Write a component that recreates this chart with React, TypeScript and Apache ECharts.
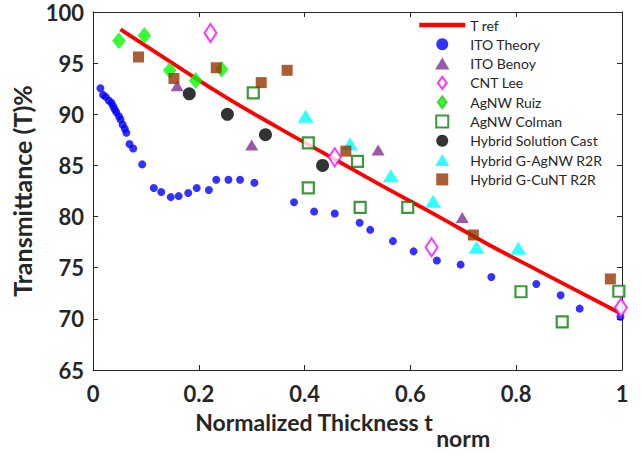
import React, { useEffect, useRef } from "react";
import * as echarts from "echarts";

// Reference curve (T ref)
const tRefX = [0.052, 0.15, 0.25, 0.35, 0.45, 0.55, 0.65, 0.75, 0.85, 0.995];
const tRefY = [98.3, 95.0, 91.7, 88.7, 85.8, 82.9, 80.1, 77.2, 74.5, 70.6];

const itoTheory: [number, number][] = [
  [0.014, 92.55], [0.019, 91.9], [0.024, 91.7], [0.030, 91.35], [0.035, 91.1],
  [0.038, 90.8], [0.041, 90.5], [0.044, 90.2], [0.049, 89.8], [0.052, 89.5],
  [0.056, 89.0], [0.060, 88.6], [0.063, 88.2], [0.069, 87.1], [0.076, 86.65],
  [0.093, 85.1], [0.115, 82.8], [0.129, 82.4], [0.147, 81.9], [0.162, 82.0],
  [0.180, 82.3], [0.196, 82.8], [0.219, 82.6], [0.233, 83.6], [0.256, 83.6],
  [0.278, 83.6], [0.305, 83.3], [0.380, 81.4], [0.418, 80.5], [0.457, 80.3],
  [0.504, 79.4], [0.524, 78.7], [0.567, 77.6], [0.606, 76.6], [0.650, 75.7],
  [0.695, 75.3], [0.753, 74.1], [0.838, 73.4], [0.884, 72.3], [0.920, 71.0],
  [0.997, 70.2],
];
const itoBenoy: [number, number][] = [
  [0.159, 92.8], [0.300, 87.0], [0.539, 86.5], [0.698, 79.9],
];
const cntLee: [number, number][] = [
  [0.222, 97.95], [0.457, 85.8], [0.640, 77.0], [0.998, 71.1],
];
const agnwRuiz: [number, number][] = [
  [0.049, 97.2], [0.097, 97.7], [0.145, 94.3], [0.194, 93.3], [0.243, 94.4],
];
const agnwColman: [number, number][] = [
  [0.303, 92.1], [0.407, 87.2], [0.500, 85.4], [0.407, 82.8], [0.505, 80.9],
  [0.595, 80.9], [0.809, 72.65], [0.887, 69.7], [0.994, 72.7],
];
const hybridSolution: [number, number][] = [
  [0.182, 92.0], [0.254, 90.0], [0.326, 88.0], [0.434, 85.0],
];
const hybridAgnw: [number, number][] = [
  [0.402, 89.8], [0.486, 87.1], [0.563, 84.0], [0.643, 81.5], [0.725, 77.0], [0.804, 76.9],
];
const hybridCunt: [number, number][] = [
  [0.086, 95.6], [0.153, 93.5], [0.233, 94.55], [0.318, 93.1], [0.367, 94.3],
  [0.478, 86.4], [0.719, 78.2], [0.978, 73.9],
];

const xTicks = { min: 0, max: 1, interval: 0.2 };
const yTicks = { min: 65, max: 100, interval: 5 };

const TXT = "#262626";
const FONT = "Lato";

const ICON_TRI = "path://M1,0L2,1.7L0,1.7Z";
const ICON_DIA = "path://M1,0L2,1.35L1,2.7L0,1.35Z";
const ICON_RECT = "path://M0,0L1,0L1,1L0,1Z";

export default function App() {
  const ref = useRef<HTMLDivElement>(null);
  useEffect(() => {
    if (!ref.current) return;
    const chart = echarts.init(ref.current, undefined, { renderer: "svg" });
    const axisCommon = {
      axisLine: { show: true, onZero: false, lineStyle: { color: TXT, width: 1 } },
      axisTick: { show: true, inside: true, length: 5, lineStyle: { color: TXT } },
      splitLine: { show: false },
    };
    const scatter = (name: string, data: [number, number][], symbol: string, size: any, style: any) => ({
      name,
      type: "scatter",
      data,
      symbol,
      symbolSize: size,
      itemStyle: style,
      z: 3,
    });
    chart.setOption({
      animation: false,
      backgroundColor: "#fff",
      textStyle: { fontFamily: FONT },
      grid: { left: 93, right: 21, top: 12, bottom: 82, show: false },
      legend: {
        orient: "vertical",
        left: 412,
        top: 13,
        itemWidth: 46,
        itemHeight: 12,
        itemGap: 5.3,
        symbolKeepAspect: true,
        textStyle: { color: TXT, fontSize: 14, fontFamily: FONT },
        data: [
          { name: "T ref", itemStyle: { opacity: 0 }, lineStyle: { width: 4.5, color: "#ff0000" } },
          { name: "ITO Theory" },
          { name: "ITO Benoy", icon: ICON_TRI },
          { name: "CNT Lee", icon: ICON_DIA },
          { name: "AgNW Ruiz", icon: ICON_DIA },
          { name: "AgNW Colman", icon: ICON_RECT },
          { name: "Hybrid Solution Cast" },
          { name: "Hybrid G-AgNW R2R", icon: ICON_TRI },
          { name: "Hybrid G-CuNT R2R", icon: ICON_RECT },
        ],
      },
      xAxis: [
        {
          type: "value",
          position: "bottom",
          ...xTicks,
          ...axisCommon,
          axisLabel: { color: TXT, fontSize: 22, fontWeight: "bold", fontFamily: FONT, margin: 12 },
          name: "{a|Normalized Thickness t}{b|norm}",
          nameLocation: "middle",
          nameGap: 40,
          nameTextStyle: {
            padding: [0, 30, 0, 0],
            rich: {
              a: { fontSize: 23, fontWeight: "bold", color: TXT, fontFamily: FONT, verticalAlign: "top" },
              b: { fontSize: 23, fontWeight: "bold", color: TXT, fontFamily: FONT, verticalAlign: "top", padding: [16, 0, 0, 3] },
            },
          },
        },
        {
          type: "value",
          position: "top",
          ...xTicks,
          ...axisCommon,
          axisLabel: { show: false },
        },
      ],
      yAxis: [
        {
          type: "value",
          position: "left",
          ...yTicks,
          ...axisCommon,
          axisLabel: { color: TXT, fontSize: 22, fontWeight: "bold", fontFamily: FONT, margin: 9 },
          name: "Transmittance (T)%",
          nameLocation: "middle",
          nameGap: 54,
          nameTextStyle: { color: TXT, fontSize: 25, fontWeight: "bold", fontFamily: FONT },
        },
        {
          type: "value",
          position: "right",
          ...yTicks,
          ...axisCommon,
          axisLabel: { show: false },
        },
      ],
      series: [
        {
          name: "T ref",
          type: "line",
          data: tRefX.map((x, i) => [x, tRefY[i]]),
          symbol: "none",
          smooth: true,
          lineStyle: { color: "#ff0000", width: 3.8 },
          itemStyle: { color: "#ff0000" },
          z: 2,
        },
        scatter("ITO Theory", itoTheory, "circle", 8, { color: "#0000ff" }),
        scatter("ITO Benoy", itoBenoy, "triangle", [13, 11], { color: "#7e2f8e" }),
        scatter("CNT Lee", cntLee, "diamond", [12, 18], { color: "#ffffff", borderColor: "#ff00ff", borderWidth: 2 }),
        scatter("AgNW Ruiz", agnwRuiz, "diamond", [13, 16], { color: "#00ff00", borderColor: "#2ecc2e", borderWidth: 0.5 }),
        scatter("AgNW Colman", agnwColman, "rect", 11, { color: "#ffffff", borderColor: "#0a800a", borderWidth: 2.2 }),
        scatter("Hybrid Solution Cast", hybridSolution, "circle", 13, { color: "#000000" }),
        scatter("Hybrid G-AgNW R2R", hybridAgnw, "triangle", [16, 13], { color: "#00ffff" }),
        scatter("Hybrid G-CuNT R2R", hybridCunt, "rect", 11, { color: "#993300" }),
      ],
    });
    return () => chart.dispose();
  }, []);
  return (
    <div
      ref={ref}
      style={{ position: "fixed", left: 0, top: 0, width: 643, height: 454, background: "#fff" }}
    />
  );
}
